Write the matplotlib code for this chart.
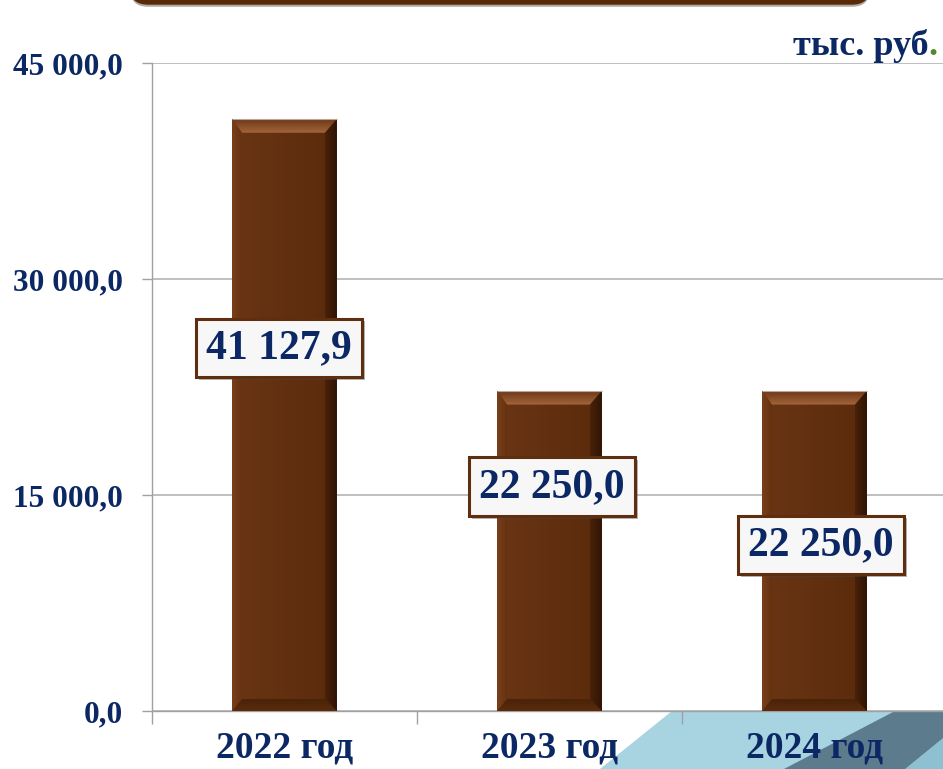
import matplotlib
matplotlib.use("Agg")
import matplotlib.pyplot as plt
import numpy as np
from matplotlib.patches import Polygon, FancyBboxPatch
from matplotlib.colors import LinearSegmentedColormap
import matplotlib.patheffects as pe

# ---- data ----
categories = ["2022 год", "2023 год", "2024 год"]
values = [41127.9, 22250.0, 22250.0]
value_labels = ["41 127,9", "22 250,0", "22 250,0"]
y_ticks = [0, 15000, 30000, 45000]
y_tick_labels = ["0,0", "15 000,0", "30 000,0", "45 000,0"]
unit_text = "тыс. руб"

# label placement (fraction of bar height, x offset in category units)
label_frac = [0.613, 0.70, 0.518]
label_dx = [-0.02, 0.01, 0.025]

NAVY = "#0b2864"
FONT = "Liberation Serif"

W, H = 943, 769
fig = plt.figure(figsize=(W / 100, H / 100), dpi=100)
fig.patch.set_facecolor("white")

# decorative shapes (figure pixel coords, y from top)
def figpoly(pts, color, z):
    pts = [(x / W, 1 - y / H) for x, y in pts]
    p = Polygon(pts, closed=True, transform=fig.transFigure, fc=color, ec="none", zorder=z)
    fig.patches.append(p)

figpoly([(600, 769), (672, 711), (943, 711), (943, 769)], "#a8d4e2", 0)
figpoly([(784, 769), (895, 711), (943, 711), (943, 769)], "#5c7b8c", 0.1)
figpoly([(905, 769), (943, 738), (943, 769)], "#8fc0d2", 0.2)

# top brown rounded box
top_box = FancyBboxPatch((130 / 100, (H - 4) / 100), 740 / 100, 1.0,
                         boxstyle="round,pad=0,rounding_size=0.18",
                         transform=fig.dpi_scale_trans, fc="#5a2a08", ec="#5a2a08",
                         lw=1, clip_on=False, zorder=1,
                         path_effects=[pe.SimplePatchShadow(offset=(0, -2), alpha=0.35), pe.Normal()])
fig.patches.append(top_box)

ax_left, ax_bottom = 152, 58
ax_w, ax_h = W - ax_left, 648
ax = fig.add_axes([ax_left / W, ax_bottom / H, ax_w / W, ax_h / H])
ax.set_zorder(2)

cat_px = 265.0
x = np.arange(len(categories))
xlim = (-0.5, -0.5 + ax_w / cat_px)
ylim = (0, 45000)

bar_w = 0.395
bars = ax.bar(x, values, width=bar_w, color="#61300e", edgecolor="none", zorder=3)

sx = ax_w / (xlim[1] - xlim[0])
sy = ax_h / (ylim[1] - ylim[0])
dx = lambda p: p / sx
dy = lambda p: p / sy

def grad_fill(poly, c0, c1, vertical, z):
    cmap = LinearSegmentedColormap.from_list("g", [c0, c1])
    verts = poly.get_xy()
    x0, x1 = verts[:, 0].min(), verts[:, 0].max()
    y0, y1 = verts[:, 1].min(), verts[:, 1].max()
    g = np.linspace(0, 1, 64)
    arr = g[:, None] if vertical else g[None, :]
    im = ax.imshow(arr, cmap=cmap, extent=[x0, x1, y0, y1] if not vertical else [x0, x1, y1, y0],
                   origin="upper", aspect="auto", zorder=z, interpolation="bilinear")
    ax.add_patch(poly)
    poly.set_visible(False)
    im.set_clip_path(poly)

L, R, T, B = dx(10), dx(12), dy(14), dy(12)
for r in bars:
    x0, w, h = r.get_x(), r.get_width(), r.get_height()
    body = Polygon([(x0, 0), (x0 + w, 0), (x0 + w, h), (x0, h)])
    grad_fill(body, "#6a3514", "#5a2b0c", False, 3.1)
    top = Polygon([(x0, h), (x0 + w, h), (x0 + w - R, h - T), (x0 + L, h - T)])
    grad_fill(top, "#a3653b", "#6e3817", True, 3.3)
    left = Polygon([(x0, 0), (x0, h), (x0 + L, h - T), (x0 + L, B)])
    grad_fill(left, "#7a401c", "#65320f", False, 3.2)
    right = Polygon([(x0 + w, 0), (x0 + w, h), (x0 + w - R, h - T), (x0 + w - R, B)])
    grad_fill(right, "#4a2209", "#2e1404", False, 3.2)
    bot = Polygon([(x0, 0), (x0 + w, 0), (x0 + w - R, B), (x0 + L, B)])
    grad_fill(bot, "#5a2b0c", "#4a2308", True, 3.25)
    ax.plot([x0, x0 + w], [h, h], color="#b8a89c", lw=0.8, zorder=3.4, solid_capstyle="butt")

ax.set_xlim(*xlim)
ax.set_ylim(*ylim)

# value labels
for i, (v, lab) in enumerate(zip(values, value_labels)):
    t = ax.text(x[i] + label_dx[i], v * label_frac[i], lab, ha="center", va="center",
                fontsize=30, fontweight="bold", color=NAVY, family=FONT, zorder=6,
                bbox=dict(boxstyle="square,pad=0.25", fc="#f7f7f7", ec="#5e2e0e", lw=2.2))
    t.get_bbox_patch().set_path_effects([pe.SimplePatchShadow(offset=(2, -2), alpha=0.4), pe.Normal()])

# axes styling
for s in ["top", "right"]:
    ax.spines[s].set_visible(False)
for s in ["left", "bottom"]:
    ax.spines[s].set_color("#a0a0a0")
    ax.spines[s].set_linewidth(1.0)
ax.spines["left"].set_bounds(ylim[0], ylim[1])

ax.set_yticks(y_ticks)
ax.set_yticklabels(y_tick_labels)
ax.yaxis.grid(True, color="#b4b4b4", lw=1.2, zorder=0)
ax.set_axisbelow(True)
ax.tick_params(axis="y", length=7, width=1, color="#a0a0a0", pad=14, labelsize=22.5, labelcolor=NAVY)

ax.set_xticks(x)
ax.set_xticklabels(categories)
ax.set_xticks(np.arange(-0.5, xlim[1], 1.0), minor=True)
ax.tick_params(axis="x", which="major", length=0, pad=14, labelsize=27, labelcolor=NAVY)
ax.tick_params(axis="x", which="minor", length=9, width=1, color="#a0a0a0")
for lbl in ax.get_xticklabels() + ax.get_yticklabels():
    lbl.set_fontfamily(FONT)
    lbl.set_fontweight("bold")

# unit text
fig.text((W - 6) / W, 1 - 55 / H, ".", ha="right", va="baseline", fontsize=26,
         fontweight="bold", color="#4e8a2e", family=FONT)
fig.text((W - 14) / W, 1 - 55 / H, unit_text, ha="right", va="baseline", fontsize=26,
         fontweight="bold", color=NAVY, family=FONT)

fig.savefig("out.png", dpi=100, facecolor="white")
